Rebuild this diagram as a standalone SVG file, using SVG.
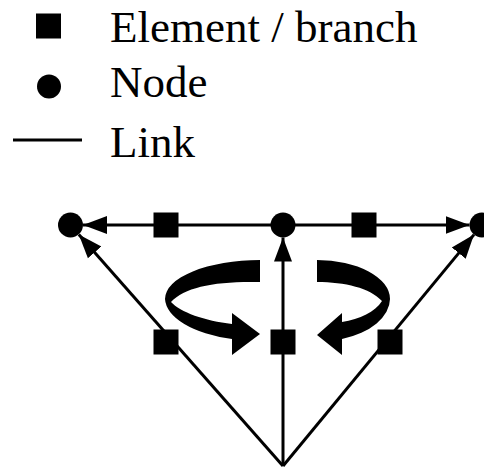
<svg xmlns="http://www.w3.org/2000/svg" width="484" height="468" viewBox="0 0 484 468">
  <style>
    .label { font-family: "Liberation Serif", "DejaVu Serif", "Times New Roman", serif; font-size: 45px; fill: #000; }
    .link { stroke: #000; stroke-width: 3; fill: none; }
    .elem { fill: #000; }
    .node { fill: #000; }
    .turn { fill: #000; }
  </style>
  <defs>
    <marker id="head" markerUnits="userSpaceOnUse" markerWidth="26" markerHeight="20" refX="24" refY="10" orient="auto">
      <path d="M0,1 L24,10 L0,19 Z" fill="#000"/>
    </marker>
  </defs>

  <!-- legend -->
  <g id="legend">
    <rect class="elem" x="36" y="13.5" width="25" height="25"/>
    <text class="label" x="110" y="42">Element / branch</text>
    <circle class="node" cx="49" cy="86.5" r="12"/>
    <text class="label" x="110" y="97">Node</text>
    <line class="link" x1="13" y1="140" x2="82" y2="140"/>
    <text class="label" x="110" y="157">Link</text>
  </g>

  <!-- links -->
  <g id="links">
    <line class="link" x1="283" y1="225" x2="83" y2="225" marker-end="url(#head)"/>
    <line class="link" x1="283" y1="225" x2="469.5" y2="225" marker-end="url(#head)"/>
    <line class="link" x1="283" y1="466" x2="78.8" y2="234.4" marker-end="url(#head)"/>
    <line class="link" x1="283" y1="466" x2="283" y2="237.5" marker-end="url(#head)"/>
    <line class="link" x1="283" y1="466" x2="474" y2="234.6" marker-end="url(#head)"/>
  </g>

  <!-- nodes -->
  <g id="node-left"><circle class="node" cx="70.5" cy="225" r="12.5"/></g>
  <g id="node-mid"><circle class="node" cx="283" cy="225" r="12.5"/></g>
  <g id="node-right"><circle class="node" cx="482" cy="225" r="12.5"/></g>

  <!-- elements / branches -->
  <g id="elem-top-left"><rect class="elem" x="153.5" y="212.5" width="25" height="25"/></g>
  <g id="elem-top-right"><rect class="elem" x="351.5" y="212.5" width="25" height="25"/></g>
  <g id="elem-bottom-left"><rect class="elem" x="153.5" y="329.5" width="25" height="25"/></g>
  <g id="elem-bottom-mid"><rect class="elem" x="270.5" y="329.5" width="25" height="25"/></g>
  <g id="elem-bottom-right"><rect class="elem" x="377.5" y="329.5" width="25" height="25"/></g>

  <!-- circulation arrows: ribbon loops with a pointed inner fold -->
  <g id="loop-left">
    <path class="turn" d="M260,260 A95 39 0 0 0 165 299 A95 43 0 0 0 232 339 L232,355 L260,334 L232,313 L232,324 C205,321 180,312 171,302 C185,287 215,281 260,282 Z"/>
  </g>
  <g id="loop-right">
    <path class="turn" d="M317,260 A73 39 0 0 1 390 299 A73 43 0 0 1 342 339 L342,355 L317,335 L342,313 L342,322 C360,319 375,312 382,301 C370,288 345,282 317,282 Z"/>
  </g>
</svg>
